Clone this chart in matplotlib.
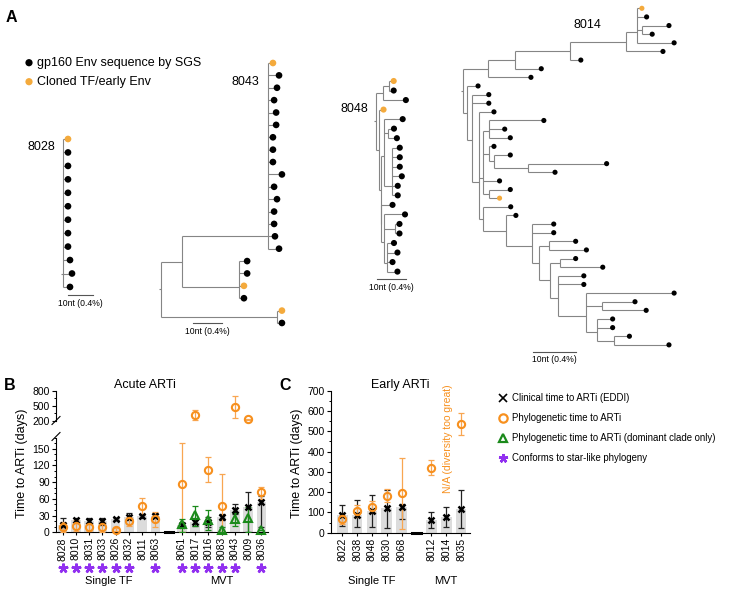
import numpy as np
import matplotlib

matplotlib.use("Agg")
import matplotlib.pyplot as plt
from matplotlib.collections import LineCollection
from matplotlib.transforms import blended_transform_factory

plt.rcParams["font.family"] = ["Liberation Sans", "DejaVu Sans"]

# ---------------- panel A: trees (Newick, branch lengths in nt) ----------------
# tip names: 'o' = cloned TF/early Env, 'k' = gp160 Env sequence by SGS
TREE_8028 = "(o:2,k:2,k:2,k:2,k:2,k:2,k:2,k:2,k:2,k:2.8,k:3.6,k:2.8);"
TREE_8043 = ("(((o:1.7,k:3.8,k:3.1,k:2.1,k:2.8,k:2.8,k:1.7,k:1.7,k:1.7,k:4.8,"
             "k:2.1,k:3.1,k:2.1,k:2.1,k:2.4,k:3.8):29.7,(k:2.8,k:2.8,o:1.7,k:1.7):19.7):7.2,"
             "(o:1.7,k:1.7):40);")
TREE_8048 = ("(((o:1.6,k:1.6):2.2,k:8):2.3,(o:1.7,((k:6.6,(k:1.9,k:2.9):1.7,"
             "(k:2.7,k:2.7,k:2.7,k:3.4,k:2,k:2):2.9):0.9,(k:4,(k:7.4,(k:1.5,k:1.5):4,"
             "(k:2.5,k:3.7,k:2,k:3.7):1.1):0.9):0):0.8):0.9);")
T14_P = "(((((o:1.2,k:2.3,(k:6.2,k:2.3):1.3,k:8.7):2.6,k:8.7):13,k:2.6):12.8,k:6.2):6.3,k:10.1)"
T14_M = "((k:12.7,k:3.6,k:4.9):1.4,(k:1.1,(k:3.7,(k:18.2,k:6.2):7.9):1.2):1.4,k:3.8,(k:5,o:2.5):1.3)"
T14_L8 = "(k:20.5,(k:7.6,k:10.2):3.8,(k:3.6,k:3.6,(k:3.5,k:12.7):4):2.6)"
T14_L = ("(k:6.4,(k:2.4,(k:5,k:5,((k:6.2,k:8.7):2.3,((k:3.6,k:9.9):2.3,"
         f"(k:6.1,k:6.1,{T14_L8}:6.6):1.7):2.6):1.6):6.2):5.2)")
TREE_8014 = f"({T14_P}:5.7,(k:2.5,(k:3.8,k:3.8,(k:3.5,{T14_M}:1,{T14_L}:1):1.5):1.2):1);"

TREES = {"8028": TREE_8028, "8043": TREE_8043, "8048": TREE_8048, "8014": TREE_8014}

# ---------------- panel B: acute ARTi ----------------
B_IDS = ["8028", "8010", "8031", "8033", "8026", "8032", "8011", "8063",
         "8061", "8017", "8016", "8083", "8043", "8009", "8036"]
B_MVT = [0, 0, 0, 0, 0, 0, 0, 0, 1, 1, 1, 1, 1, 1, 1]
B_CLIN = [14, 22, 20, 20, 24, 28, 29, 30, 13, 18, 19, 27, 40, 46, 54]
B_CLIN_LO = [5, 17, 15, 14, 22, 22, 26, 26, 10, 12, 10, 22, 32, 1, 10]
B_CLIN_HI = [25, 26, 25, 25, 26, 35, 31, 35, 16, 26, 28, 32, 50, 72, 65]
B_PHY = [10, 12, 9, 10, 5, 20, 47, 24, 87, 315, 112, 48, 480, 235, 72]
B_PHY_LO = [0, 2, 3, 1, 3, 12, 33, 9, 0, 215, 91, 0, 250, 228, 59]
B_PHY_HI = [18, 22, 15, 18, 7, 28, 61, 37, 160, 414, 136, 104, 690, 242, 81]
NA = np.nan
B_DOM = [NA, NA, NA, NA, NA, NA, NA, NA, 15, 31, 22, 5, 23, 25, 5]
B_DOM_LO = [NA, NA, NA, NA, NA, NA, NA, NA, 0, 12, 4, 0, 12, 0, 5]
B_DOM_HI = [NA, NA, NA, NA, NA, NA, NA, NA, 24, 48, 40, 10, 35, 45, 5]
B_STAR = [1, 1, 1, 1, 1, 1, 0, 1, 1, 1, 1, 1, 1, 0, 1]

# ---------------- panel C: early ARTi ----------------
C_IDS = ["8022", "8038", "8048", "8030", "8068", "8012", "8014", "8035"]
C_MVT = [0, 0, 0, 0, 0, 1, 1, 1]
C_CLIN = [85, 88, 108, 122, 128, 65, 78, 118]
C_CLIN_LO = [35, 28, 30, 22, 70, 25, 30, 22]
C_CLIN_HI = [135, 160, 188, 212, 140, 102, 125, 210]
C_PHY = [68, 108, 128, 182, 195, 320, NA, 535]
C_PHY_LO = [45, 78, 100, 150, 20, 285, NA, 480]
C_PHY_HI = [88, 135, 158, 215, 370, 358, NA, 590]

GROUPS = ["Single TF", "MVT"]

# ---------------- styles ----------------
TREE_ORANGE = "#F4AA3C"
ORANGE = "#F7901E"
ORANGE_ERR = "#F8A651"
GREEN = "#1B8A1B"
PURPLE = "#9130F0"
BAR_GREY = "#DCDCDC"
W, H = 730, 591

fig = plt.figure(figsize=(W / 100, H / 100), dpi=100)


def box(l, t, r, b):
    return [l / W, 1 - b / H, (r - l) / W, (b - t) / H]


ov = fig.add_axes([0, 0, 1, 1], zorder=0)
ov.set_xlim(0, W)
ov.set_ylim(H, 0)
ov.axis("off")


def parse_newick(s):
    s = s.replace(" ", "").rstrip(";")
    pos = 0

    def node():
        nonlocal pos
        kids = []
        if s[pos] == "(":
            pos += 1
            while True:
                kids.append(node())
                if s[pos] == ",":
                    pos += 1
                    continue
                pos += 1
                break
        start = pos
        while pos < len(s) and s[pos] not in ",():":
            pos += 1
        name = s[start:pos]
        length = 0.0
        if pos < len(s) and s[pos] == ":":
            pos += 1
            start = pos
            while pos < len(s) and s[pos] not in ",()":
                pos += 1
            length = float(s[start:pos])
        return {"name": name, "len": length, "kids": kids}

    return node()


def draw_tree(newick, x0, y0, dy, ppn, dot):
    tree = parse_newick(newick)
    segs, tips, n = [], [], [0]

    def walk(nd, x):
        if not nd["kids"]:
            y = y0 + n[0] * dy
            n[0] += 1
            tips.append((x, y, nd["name"]))
            return y
        ys = []
        for k in nd["kids"]:
            cx = x + k["len"] * ppn
            cy = walk(k, cx)
            segs.append([(x, cy), (cx, cy)])
            ys.append(cy)
        segs.append([(x, ys[0]), (x, ys[-1])])
        # polytomies are drawn as left ladders (node sits near the last child)
        y = ys[0]
        for v in ys[1:]:
            y = (y + v) / 2
        return y

    ry = walk(tree, x0)
    segs.append([(x0 - 2, ry), (x0, ry)])
    ov.add_collection(LineCollection(segs, colors="#858585", linewidths=0.8))
    tx = [t[0] for t in tips]
    ty = [t[1] for t in tips]
    tc = [TREE_ORANGE if t[2] == "o" else "black" for t in tips]
    ov.scatter(tx, ty, s=dot ** 2, c=tc, linewidths=0, zorder=3)


TREE_LAYOUT = {
    "8028": dict(x0=63, y0=139, dy=13.45, ppn=2.5, dot=4.8, lab=(55, 147, "right"), bar=(68, 295)),
    "8043": dict(x0=161, y0=63, dy=12.38, ppn=2.9, dot=4.8, lab=(259, 82, "right"), bar=(193, 323)),
    "8048": dict(x0=376, y0=81, dy=9.53, ppn=2.9, dot=4.4, lab=(368, 109, "right"), bar=(377, 279)),
    "8014": dict(x0=463, y0=8.3, dy=8.63, ppn=4.3, dot=3.7, lab=(587, 25, "center"), bar=(533, 352)),
}
for name, lay in TREE_LAYOUT.items():
    draw_tree(TREES[name], lay["x0"], lay["y0"], lay["dy"], lay["ppn"], lay["dot"])
    lx, ly, ha = lay["lab"]
    ov.text(lx, ly, name, fontsize=9, ha=ha, va="center")
    bx, by = lay["bar"]
    ov.plot([bx, bx + 10 * lay["ppn"]], [by, by], color="#555555", lw=0.8)
    ov.text(bx + 5 * lay["ppn"], by + 8, "10nt (0.4%)", fontsize=6.2, ha="center", va="center")

ov.scatter([29, 29], [62.7, 81.7], s=5.2 ** 2, c=["black", TREE_ORANGE], linewidths=0)
ov.text(37, 62.7, "gp160 Env sequence by SGS", fontsize=9, va="center")
ov.text(37, 81.7, "Cloned TF/early Env", fontsize=9, va="center")

for lbl, (x, y) in {"A": (11.5, 17), "B": (10, 385), "C": (285, 385)}.items():
    ov.text(x, y, lbl, fontsize=11.5, fontweight="bold", ha="center", va="center")


# ---------------- panels B and C ----------------
def positions(mvt):
    mvt = np.asarray(mvt)
    return np.arange(len(mvt)) + mvt


def style_axis(ax):
    for s in ("top", "right"):
        ax.spines[s].set_visible(False)
    for s in ("left", "bottom"):
        ax.spines[s].set_linewidth(0.8)
    ax.tick_params(which="major", length=3, width=0.8, labelsize=7.5, pad=1.5)
    ax.tick_params(which="minor", length=1.8, width=0.7)


def draw_data(ax, pos, clin, clo, chi, phy, plo, phi, dom=None, dlo=None, dhi=None, lo=0, hi=1e9):
    clin, clo, chi = map(np.asarray, (clin, clo, chi))
    phy, plo, phi = (np.asarray(a, dtype=float) for a in (phy, plo, phi))
    ax.bar(pos, clin, width=0.72, color=BAR_GREY, zorder=1)
    ax.errorbar(pos, clin, yerr=[clin - clo, chi - clin], fmt="none", ecolor="#222222",
                elinewidth=0.9, capsize=2, capthick=0.9, zorder=2)
    m = ~np.isnan(phy)
    ax.errorbar(pos[m], phy[m], yerr=[phy[m] - plo[m], phi[m] - phy[m]], fmt="none",
                ecolor=ORANGE_ERR, elinewidth=0.9, capsize=2, capthick=0.9, zorder=3)
    if dom is not None:
        dom, dlo, dhi = (np.asarray(a, dtype=float) for a in (dom, dlo, dhi))
        d = ~np.isnan(dom)
        ax.errorbar(pos[d], dom[d], yerr=[dom[d] - dlo[d], dhi[d] - dom[d]], fmt="none",
                    ecolor=GREEN, elinewidth=0.9, capsize=2, capthick=0.9, zorder=3)
        d &= (dom >= lo) & (dom <= hi)
        ax.plot(pos[d], dom[d], ls="none", marker="^", ms=5.5, mfc="none", mec=GREEN,
                mew=1.5, zorder=5, clip_on=False)
    k = (clin >= lo) & (clin <= hi)
    ax.plot(pos[k], clin[k], ls="none", marker="x", ms=4.5, mec="black", mew=1.8,
            zorder=4, clip_on=False)
    m &= (phy >= lo) & (phy <= hi)
    ax.plot(pos[m], phy[m], ls="none", marker="o", ms=5.2, mfc="none", mec=ORANGE,
            mew=1.5, zorder=5, clip_on=False)


# B: broken y axis
bpos = positions(B_MVT)
axB = fig.add_axes(box(56, 437.6, 268, 532.3), zorder=2)
axBu = fig.add_axes(box(56, 390.7, 268, 421), zorder=2)
for ax, lo, hi in ((axB, 0, 170), (axBu, 200, 800)):
    draw_data(ax, bpos, B_CLIN, B_CLIN_LO, B_CLIN_HI, B_PHY, B_PHY_LO, B_PHY_HI,
              B_DOM, B_DOM_LO, B_DOM_HI, lo=lo, hi=hi)
    ax.set_ylim(lo, hi)
    ax.set_xlim(-0.5, 15.5)
    ax.patch.set_alpha(0)
    style_axis(ax)
axB.set_yticks(np.arange(0, 151, 30))
axB.set_yticks(np.arange(0, 171, 10), minor=True)
axB.set_xticks(bpos)
axB.set_xticklabels(B_IDS, rotation=90, fontsize=7.5)
axB.tick_params(axis="x", length=2)
axBu.set_yticks([200, 500, 800])
axBu.set_yticks([350, 650], minor=True)
axBu.set_xticks([])
axBu.spines["bottom"].set_visible(False)
axB.plot([7.7, 8.3], [0, 0], color="black", lw=2.2, clip_on=False, zorder=6)
for yc in (420.5, 436.5):
    ov.plot([52, 60], [yc + 4, yc - 4], color="black", lw=0.8, zorder=5)

# C
cpos = positions(C_MVT)
axC = fig.add_axes(box(331, 390.7, 470, 532.7), zorder=2)
draw_data(axC, cpos, C_CLIN, C_CLIN_LO, C_CLIN_HI, C_PHY, C_PHY_LO, C_PHY_HI, lo=0, hi=700)
axC.set_ylim(0, 700)
axC.set_xlim(-0.75, 8.6)
axC.patch.set_alpha(0)
style_axis(axC)
axC.set_yticks(np.arange(0, 701, 100))
axC.set_yticks(np.arange(0, 701, 50), minor=True)
axC.set_xticks(cpos)
axC.set_xticklabels(C_IDS, rotation=90, fontsize=7.5)
axC.tick_params(axis="x", length=2)
axC.plot([4.7, 5.3], [0, 0], color="black", lw=2.2, clip_on=False, zorder=6)

# annotations below the axes: x from data, y in pixels
tB = blended_transform_factory(axB.transData, ov.transData)
tC = blended_transform_factory(axC.transData, ov.transData)
star = np.asarray(B_STAR, dtype=bool)
ov.plot(bpos[star], np.full(star.sum(), 568.0), ls="none", marker=(5, 2, 0), ms=7,
        mec=PURPLE, mew=1.8, transform=tB, clip_on=False)
mvtB = np.asarray(B_MVT)
mvtC = np.asarray(C_MVT)
for g, name in enumerate(GROUPS):
    ov.text(bpos[mvtB == g].mean(), 581, name, fontsize=8, ha="center", va="center", transform=tB)
    ov.text(cpos[mvtC == g].mean(), 581, name, fontsize=8, ha="center", va="center", transform=tC)
na_x = cpos[list(C_IDS).index("8014")] + 0.15
ov.text(na_x, 439, "N/A (diversity too great)", rotation=90, fontsize=7.5, color=ORANGE,
        ha="center", va="center", transform=tC)

ov.text(145, 385, "Acute ARTi", fontsize=9, ha="center", va="center")
ov.text(400, 385, "Early ARTi", fontsize=9, ha="center", va="center")
ov.text(21.7, 463, "Time to ARTi (days)", fontsize=9, rotation=90, ha="center", va="center")
ov.text(297.3, 463, "Time to ARTi (days)", fontsize=9, rotation=90, ha="center", va="center")

# legend for B/C
LEG = [("x", "black", "Clinical time to ARTi (EDDI)"),
       ("o", ORANGE, "Phylogenetic time to ARTi"),
       ("^", GREEN, "Phylogenetic time to ARTi (dominant clade only)"),
       ("*", PURPLE, "Conforms to star-like phylogeny")]
for i, (mk, col, txt) in enumerate(LEG):
    y = 398.3 + 20 * i
    if mk == "*":
        ov.plot(502.7, y, marker=(5, 2, 0), ms=6.5, mec=col, mew=1.8)
    elif mk == "x":
        ov.plot(502.7, y, marker="x", ms=6, mec=col, mew=1.2)
    else:
        ov.plot(502.7, y, marker=mk, ms=6, mfc="none", mec=col, mew=1.6)
    ov.text(511.5, y, txt, fontsize=6.9, va="center")

fig.savefig("out.png", dpi=100)
